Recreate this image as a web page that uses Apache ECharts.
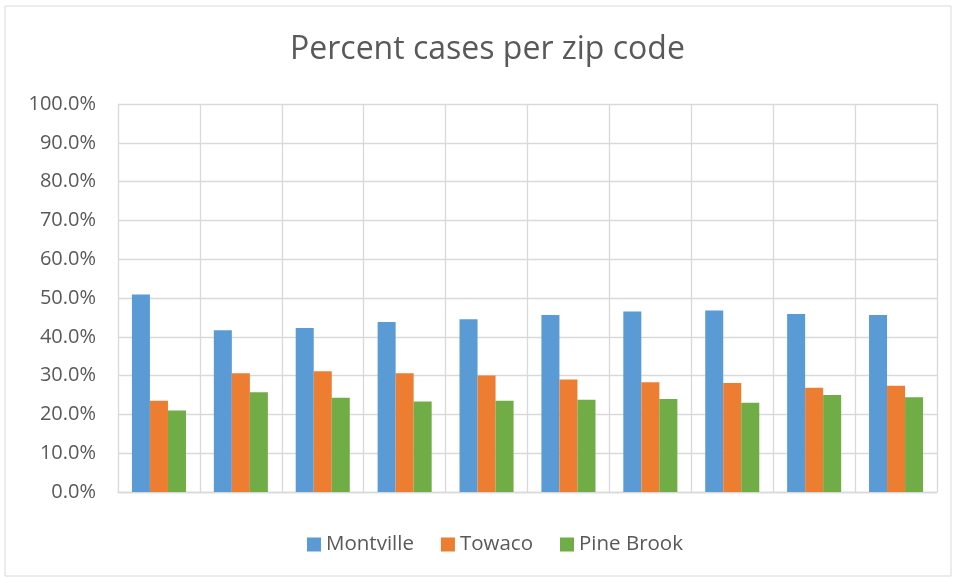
<!DOCTYPE html>
<html>
<head>
<meta charset="utf-8">
<script src="https://cdn.jsdelivr.net/npm/echarts@6/dist/echarts.min.js"></script>
<style>
html, body { margin: 0; padding: 0; background: #fff; }
#chart { width: 957px; height: 578px; }
</style>
</head>
<body>
<div id="chart"></div>
<script>
'use strict'
// ten zip codes, no labels shown on the axis
const categories = ['', '', '', '', '', '', '', '', '', '']
const montville = [50.9, 41.7, 42.3, 43.8, 44.5, 45.6, 46.5, 46.8, 45.9, 45.6]
const towaco = [23.5, 30.6, 31.1, 30.6, 30.0, 29.0, 28.3, 28.1, 26.9, 27.4]
const pineBrook = [21.0, 25.7, 24.3, 23.3, 23.5, 23.8, 24.0, 23.0, 25.0, 24.4]
const seriesNames = ['Montville', 'Towaco', 'Pine Brook']
const colors = ['#5b9bd5', '#ed7d31', '#70ad47']

const font = "'Open Sans', 'Noto Sans', sans-serif"
const textColor = '#595959'
const gridColor = '#d9d9d9'

let option = {
    color: colors,
    animation: false,
    title: {
        text: 'Percent cases per zip code',
        left: 285,
        top: 29,
        textStyle: {
            color: textColor,
            fontFamily: font,
            fontWeight: 'normal',
            fontSize: 32
        }
    },
    graphic: [{
        type: 'rect',
        shape: { x: 5, y: 6, width: 946, height: 570 },
        style: { fill: 'none', stroke: gridColor, lineWidth: 1 },
        silent: true
    }],
    grid: {
        left: 118,
        right: 20,
        top: 104,
        bottom: 86,
        containLabel: false
    },
    legend: {
        top: 529,
        left: 302,
        itemWidth: 14,
        itemHeight: 14,
        itemGap: 27,
        icon: 'rect',
        textStyle: {
            color: textColor,
            fontFamily: font,
            fontSize: 20.5
        },
        data: seriesNames
    },
    xAxis: {
        type: 'category',
        data: categories,
        boundaryGap: true,
        axisTick: { show: false },
        axisLabel: { show: false },
        axisLine: { show: true, lineStyle: { color: gridColor, width: 1.3 } },
        splitLine: { show: true, interval: 0, lineStyle: { color: gridColor, width: 1.3 } }
    },
    yAxis: {
        type: 'value',
        min: 0,
        max: 100,
        interval: 10,
        axisLine: { show: false },
        axisTick: { show: false },
        axisLabel: {
            color: textColor,
            fontFamily: font,
            fontSize: 20,
            margin: 22,
            formatter: v => v.toFixed(1) + '%'
        },
        splitLine: { lineStyle: { color: gridColor, width: 1.3 } }
    },
    series: [montville, towaco, pineBrook].map((d, k) => {
        return {
            name: seriesNames[k],
            type: 'bar',
            data: d,
            barGap: '0%',
            barCategoryGap: '34%'
        }
    })
}

let myChart = echarts.init(document.getElementById('chart'))
myChart.setOption(option)
</script>
</body>
</html>
